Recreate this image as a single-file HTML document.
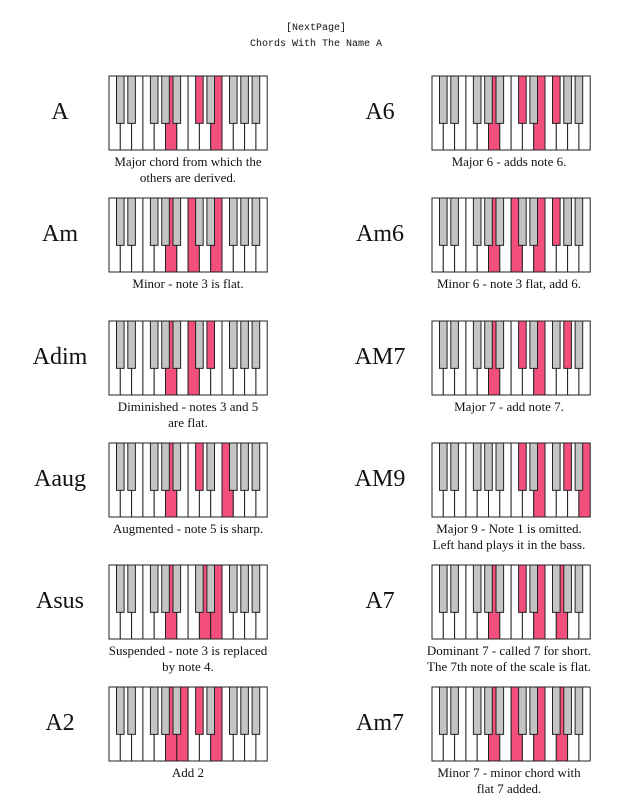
<!DOCTYPE html>
<html><head><meta charset="utf-8"><style>
body{margin:0;width:632px;height:800px;background:#fff;overflow:hidden;position:relative;font-family:"Liberation Serif",serif;color:#111}
.h{position:absolute;left:0;width:632px;text-align:center;font-family:"Liberation Mono",monospace;font-size:10px}
.lab{position:absolute;width:120px;text-align:center;font-size:24px}
.cap{position:absolute;width:240px;text-align:center;font-size:13px;line-height:16px}
svg{position:absolute}
</style></head><body>
<div class="h" style="top:23px">[NextPage]</div>
<div class="h" style="top:39px">Chords With The Name A</div>
<div id="c"></div>
<script>
const chords=[
["A","Major chord from which the<br>others are derived.",[9,13,16]],
["A6","Major 6 - adds note 6.",[9,13,16,18]],
["Am","Minor - note 3 is flat.",[9,12,16]],
["Am6","Minor 6 - note 3 flat, add 6.",[9,12,16,18]],
["Adim","Diminished - notes 3 and 5<br>are flat.",[9,12,15]],
["AM7","Major 7 - add note 7.",[9,13,16,20]],
["Aaug","Augmented - note 5 is sharp.",[9,13,17]],
["AM9","Major 9 - Note 1 is omitted.<br>Left hand plays it in the bass.",[13,16,20,23]],
["Asus","Suspended - note 3 is replaced<br>by note 4.",[9,14,16]],
["A7","Dominant 7 - called 7 for short.<br>The 7th note of the scale is flat.",[9,13,16,19]],
["A2","Add 2",[9,11,13,16]],
["Am7","Minor 7 - minor chord with<br>flat 7 added.",[9,12,16,19]]];
const W={0:0,2:1,4:2,5:3,7:4,9:5,11:6},B={1:1,3:2,6:4,8:5,10:6};
const tops=[75,197,320,442,564,686];
let h="";
chords.forEach((c,i)=>{
 const col=i%2,row=Math.floor(i/2),y=tops[row];
 const kx=col?431:108,lx=col?320:0,cx=col?389:68;
 const kw=11.3,H=74,pink="#f24f7c";
 let s=`<svg style="left:${kx}px;top:${y}px" width="162" height="76">`;
 const on=new Set(c[2]);
 for(let k=0;k<14;k++){let sem=[0,2,4,5,7,9,11][k%7]+12*Math.floor(k/7);
  s+=`<rect x="${1+k*kw}" y="1" width="${kw}" height="${H}" fill="${on.has(sem)?pink:'#fff'}" stroke="#222" stroke-width="1"/>`;}
 for(const sm of [1,3,6,8,10,13,15,18,20,22]){let b=B[sm%12]+7*Math.floor(sm/12);
  s+=`<rect x="${1+b*kw-3.8}" y="1" width="7.6" height="${H*0.64}" fill="${on.has(sm)?pink:'#c4c4c4'}" stroke="#222" stroke-width="1"/>`;}
 s+=`</svg>`;
 h+=s;
 h+=`<div class="lab" style="left:${(col?380:60)-60}px;top:${y+24}px">${c[0]}</div>`;
 h+=`<div class="cap" style="left:${(col?509:188)-120}px;top:${y+79}px">${c[1]}</div>`;
});
document.getElementById("c").innerHTML=h;
</script>
</body></html>
